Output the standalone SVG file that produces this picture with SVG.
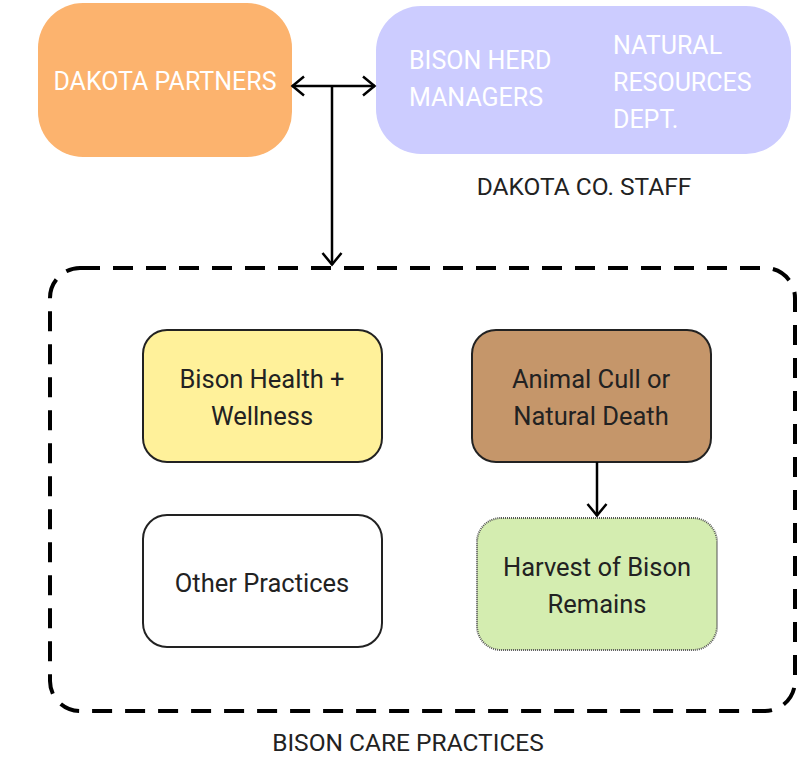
<svg xmlns="http://www.w3.org/2000/svg" width="799" height="757" viewBox="0 0 799 757">
  <style>
    .t { font-family: Roboto, "DejaVu Sans", sans-serif; }
    .w { fill: #ffffff; font-size: 25px; }
    .d { fill: #222222; font-size: 24.5px; }
    .n { fill: #222222; font-size: 25.5px; text-anchor: middle; }
    .box { stroke: #222222; stroke-width: 2; }
    .con { fill: none; stroke: #000000; stroke-width: 2.5; }
  </style>
  <defs>
    <marker id="arrow" viewBox="0 0 16 22" refX="14" refY="11" markerWidth="16" markerHeight="22" markerUnits="userSpaceOnUse" orient="auto-start-reverse">
      <path d="M2,1.5 L13.5,11 L2,20.5" fill="none" stroke="#000000" stroke-width="2.5"/>
    </marker>
  </defs>

  <rect width="799" height="757" fill="#ffffff"/>

  <!-- outer dashed container -->
  <g id="care-practices">
    <rect x="50" y="268" width="745" height="443" rx="30" fill="none" stroke="#000000" stroke-width="4" stroke-dasharray="20 13"/>
    <text class="t d" x="408" y="751" text-anchor="middle">BISON CARE PRACTICES</text>
  </g>

  <g id="dakota-partners">
    <rect x="38" y="3" width="254" height="154" rx="45" fill="#FCB36E"/>
    <text class="t w" x="165" y="90" text-anchor="middle">DAKOTA PARTNERS</text>
  </g>

  <g id="dakota-staff">
    <rect x="376" y="6" width="415" height="148" rx="45" fill="#CCCCFF"/>
    <text class="t w" x="409" y="69">BISON HERD</text>
    <text class="t w" x="409" y="106">MANAGERS</text>
    <text class="t w" x="613" y="54">NATURAL</text>
    <text class="t w" x="613" y="91">RESOURCES</text>
    <text class="t w" x="613" y="128">DEPT.</text>
    <text class="t d" x="584" y="195" text-anchor="middle">DAKOTA CO. STAFF</text>
  </g>

  <g id="health">
    <rect class="box" x="143" y="330" width="239" height="132" rx="24" fill="#FFF19A"/>
    <text class="t n" x="262" y="388">Bison Health +</text>
    <text class="t n" x="262" y="425">Wellness</text>
  </g>

  <g id="cull">
    <rect class="box" x="472" y="330" width="239" height="132" rx="24" fill="#C5966A"/>
    <text class="t n" x="591" y="388">Animal Cull or</text>
    <text class="t n" x="591" y="425">Natural Death</text>
  </g>

  <g id="other">
    <rect class="box" x="143" y="515" width="239" height="132" rx="24" fill="#ffffff"/>
    <text class="t n" x="262" y="592">Other Practices</text>
  </g>

  <g id="harvest">
    <rect x="477" y="518" width="240" height="132" rx="24" fill="#D4EDB0" stroke="#555555" stroke-width="2" stroke-dasharray="1 1"/>
    <text class="t n" x="597" y="576">Harvest of Bison</text>
    <text class="t n" x="597" y="613">Remains</text>
  </g>

  <g id="connectors">
    <line class="con" x1="292" y1="86" x2="375" y2="86" marker-start="url(#arrow)" marker-end="url(#arrow)"/>
    <line class="con" x1="332" y1="86" x2="332" y2="265" marker-end="url(#arrow)"/>
    <line class="con" x1="597" y1="462" x2="597" y2="516" marker-end="url(#arrow)"/>
  </g>
</svg>
